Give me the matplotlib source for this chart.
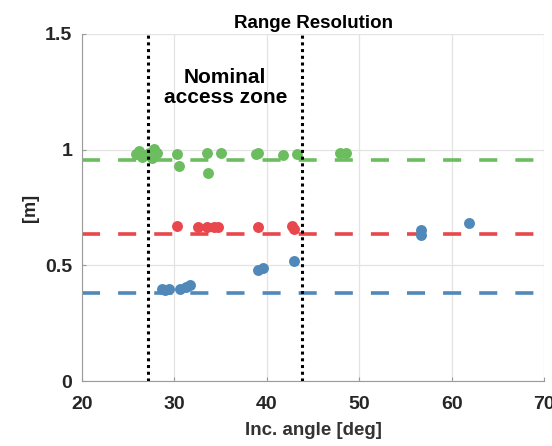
import numpy as np
from matplotlib import pyplot as plt

plt.rcParams['font.family'] = ['Liberation Sans', 'DejaVu Sans']

# incidence angle [deg] and resolution [m]
green_x = [25.8, 26.2, 26.5, 26.9, 27.3, 27.8, 28.1, 27.6, 30.3, 30.5, 33.5, 33.6, 35.0, 38.8, 39.1, 41.8, 43.3, 47.9, 48.6]
green_y = [0.98, 0.995, 0.97, 0.975, 0.985, 1.005, 0.985, 0.965, 0.983, 0.93, 0.987, 0.90, 0.985, 0.983, 0.985, 0.978, 0.98, 0.987, 0.985]
red_x = [30.3, 32.6, 33.5, 34.3, 34.7, 39.0, 42.7, 42.9]
red_y = [0.668, 0.665, 0.665, 0.667, 0.665, 0.665, 0.669, 0.655]
blue_x = [28.7, 29.0, 29.4, 30.6, 31.3, 31.7, 39.0, 39.6, 42.9, 56.7, 56.7, 61.9]
blue_y = [0.398, 0.395, 0.396, 0.396, 0.405, 0.415, 0.482, 0.489, 0.52, 0.654, 0.632, 0.684]

green_ref = 0.955
red_ref = 0.635
blue_ref = 0.382
zone = [27.1, 43.8]

c_green = '#6cbd5f'
c_red = '#e8474c'
c_blue = '#5088ba'

fig = plt.figure(figsize=(5.52, 4.46), dpi=100)
ax = fig.add_axes([0.1486, 0.1457, 0.8369, 0.7781])

for yv, c in [(green_ref, c_green), (red_ref, c_red), (blue_ref, c_blue)]:
    ax.axhline(yv, color=c, lw=2.6, dashes=(5, 5), zorder=2)
for xv in zone:
    ax.axvline(xv, color='black', lw=2.2, dashes=(1, 1.2), zorder=4)

ax.scatter(green_x, green_y, s=62, color=c_green, zorder=3, linewidths=0)
ax.scatter(red_x, red_y, s=62, color=c_red, zorder=3, linewidths=0)
ax.scatter(blue_x, blue_y, s=62, color=c_blue, zorder=3, linewidths=0)

ax.text(35.5, 1.27, 'Nominal\naccess zone', ha='center', va='center',
        fontsize=15, fontweight='bold', linespacing=1.05)

ax.set_xlim(20, 70)
ax.set_ylim(0, 1.5)
ax.set_xticks([20, 30, 40, 50, 60, 70])
ax.set_yticks([0, 0.5, 1, 1.5])
ax.set_yticklabels(['0', '0.5', '1', '1.5'])
ax.grid(True, color='#e3e3e3', lw=0.9, zorder=0)
ax.set_axisbelow(True)
ax.tick_params(direction='in', length=3, color='#999999', labelsize=14)
ax.tick_params(axis='x', pad=11)
ax.tick_params(axis='y', pad=7)
for lbl in ax.get_xticklabels() + ax.get_yticklabels():
    lbl.set_fontweight('bold')
    lbl.set_color('#262626')
for s in ['top', 'right']:
    ax.spines[s].set_visible(False)
for s in ['left', 'bottom']:
    ax.spines[s].set_color('#9a9a9a')

ax.set_title('Range Resolution', fontsize=13.5, fontweight='bold', pad=4)
ax.set_xlabel('Inc. angle [deg]', fontsize=13.5, fontweight='bold', color='#333333', labelpad=6)
ax.set_ylabel('[m]', fontsize=13, fontweight='bold', color='#262626', labelpad=4)

fig.savefig('out.png', dpi=100)
